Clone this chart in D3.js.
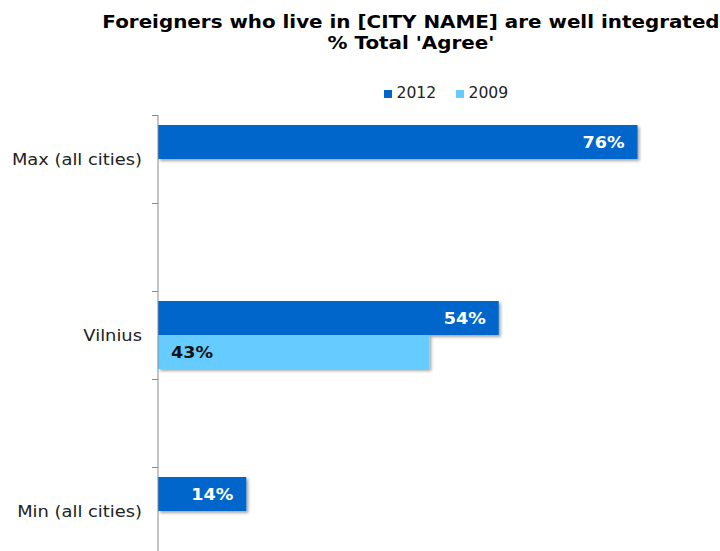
<!DOCTYPE html>
<html><head><meta charset="utf-8">
<script src="https://cdn.jsdelivr.net/npm/d3@7"></script>
<style>body{margin:0;background:#fff}svg{display:block}text{font-family:"DejaVu Sans",Verdana,sans-serif}</style>
</head><body>
<svg id="c" width="720" height="551"></svg>
<script>
const categories = ["Max (all cities)", "", "Vilnius", " ", "Min (all cities)"];
const series = ["2012", "2009"];
const values2012 = [76, null, 54, null, 14];
const values2009 = [null, null, 43, null, null];
const colors = {"2012": "#0066CC", "2009": "#66CCFF"};

const svg = d3.select("#c");
const defs = svg.append("defs");
const f = defs.append("filter").attr("id","sh").attr("x","-5%").attr("y","-20%").attr("width","115%").attr("height","160%");
f.append("feDropShadow").attr("dx",2).attr("dy",2).attr("stdDeviation",1.5).attr("flood-color","#000").attr("flood-opacity",0.35);

function widen(sel, k) {
  sel.each(function() {
    const w = this.getComputedTextLength();
    if (w > 0) d3.select(this).attr("textLength", w * k).attr("lengthAdjust", "spacingAndGlyphs");
  });
}

const x = d3.scaleLinear().domain([0, 100]).range([158, 789]);
const y = d3.scaleBand().domain(categories).range([115, 555]).paddingInner(0).paddingOuter(0);
const ys = d3.scaleBand().domain(series).range([10, y.bandwidth() - 10]);

const t1 = svg.append("text").attr("x", 411).attr("y", 28).attr("text-anchor","middle")
  .attr("font-size", 17).attr("font-weight","bold").text("Foreigners who live in [CITY NAME] are well integrated");
const t2 = svg.append("text").attr("x", 411).attr("y", 49).attr("text-anchor","middle")
  .attr("font-size", 17).attr("font-weight","bold").text("% Total 'Agree'");
widen(t1, 1.17); widen(t2, 1.17);

// legend
const lg = svg.append("g");
const legendPos = [384, 456];
series.forEach((s, i) => {
  lg.append("rect").attr("x", legendPos[i]).attr("y", 90).attr("width", 8).attr("height", 8).attr("fill", colors[s]);
  const tt = lg.append("text").attr("x", legendPos[i] + 12.5).attr("y", 98).attr("font-size", 15).attr("fill","#222").text(s);
  widen(tt, 1.04);
});

const data = [];
categories.forEach((c, i) => {
  [["2012", values2012[i]], ["2009", values2009[i]]].forEach(([s, v]) => {
    if (v != null) data.push({c, s, v});
  });
});

const g = svg.append("g");
g.selectAll("rect.bar").data(data).join("rect").attr("class","bar")
  .attr("x", x(0)).attr("y", d => y(d.c) + ys(d.s))
  .attr("width", d => x(d.v) - x(0)).attr("height", ys.bandwidth())
  .attr("fill", d => colors[d.s]).attr("filter","url(#sh)");

const labs = g.selectAll("text.lab").data(data).join("text").attr("class","lab")
  .attr("x", d => d.s === "2012" ? x(d.v) - 13 : x(0) + 13)
  .attr("y", d => y(d.c) + ys(d.s) + ys.bandwidth() / 2 + 5.5)
  .attr("text-anchor", d => d.s === "2012" ? "end" : "start")
  .attr("font-size", 15).attr("font-weight","bold")
  .attr("fill", d => d.s === "2012" ? "#fff" : "#111")
  .text(d => d.v + "%");
widen(labs, 1.17);

// axis
const ax = svg.append("g");
ax.append("line").attr("x1", x(0)).attr("x2", x(0)).attr("y1", y.range()[0]).attr("y2", 551).attr("stroke","#888").attr("stroke-width",1);
const tickYs = categories.map(c => y(c)).concat([y.range()[1]]);
ax.selectAll("line.t").data(tickYs).join("line").attr("class","t")
  .attr("x1", x(0) - 6).attr("x2", x(0)).attr("y1", d => Math.round(d) + 0.5).attr("y2", d => Math.round(d) + 0.5)
  .attr("stroke","#888");
const cl = ax.selectAll("text.cl").data(categories).join("text").attr("class","cl")
  .attr("x", 142).attr("y", c => y(c) + y.bandwidth() / 2 + 6)
  .attr("text-anchor","end").attr("font-size", 15).attr("fill","#222").text(c => c.trim());
widen(cl, 1.19);
</script>
</body></html>
